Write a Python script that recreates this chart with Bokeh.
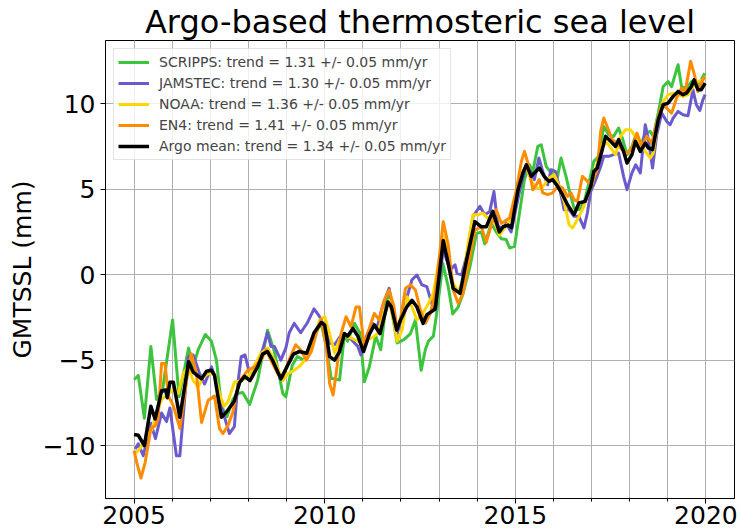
from bokeh.plotting import figure
from bokeh.models import (Range1d, SingleIntervalTicker, CustomJSTickFormatter,
                          Legend, LegendItem)
from bokeh.embed import file_html
from bokeh.resources import INLINE

TITLE = "Argo-based thermosteric sea level"
Y_LABEL = "GMTSSL (mm)"
NAMES = ["SCRIPPS: trend = 1.31 +/- 0.05 mm/yr",
         "JAMSTEC: trend = 1.30 +/- 0.05 mm/yr",
         "NOAA: trend = 1.36 +/- 0.05 mm/yr",
         "EN4: trend = 1.41 +/- 0.05 mm/yr",
         "Argo mean: trend = 1.34 +/- 0.05 mm/yr"]
COLORS = ["#3cc43c", "#6a5acd", "#ffd700", "#ff8c00", "#000000"]

scripps = [(2005.0, -6.15), (2005.11, -5.9), (2005.27, -8.4), (2005.44, -4.2), (2005.59, -7.3),
           (2005.74, -6.85), (2006.01, -2.65), (2006.18, -7.15), (2006.43, -4.3), (2006.55, -5.4),
           (2006.68, -4.4), (2006.87, -3.5), (2007.03, -3.9), (2007.16, -5.0), (2007.29, -7.7),
           (2007.44, -8.3), (2007.59, -7.3), (2007.72, -6.95), (2007.85, -6.9), (2008.03, -7.6),
           (2008.24, -6.2), (2008.5, -3.25), (2008.68, -4.5), (2008.9, -6.95), (2008.98, -7.15),
           (2009.15, -5.3), (2009.28, -4.8), (2009.46, -5.0), (2009.6, -4.6), (2009.74, -3.45),
           (2009.91, -2.85), (2010.04, -4.2), (2010.17, -6.07), (2010.39, -6.17), (2010.52, -3.45),
           (2010.6, -3.9), (2010.78, -2.85), (2010.93, -3.45), (2011.04, -6.27), (2011.17, -5.4),
           (2011.34, -3.6), (2011.47, -4.4), (2011.64, -1.1), (2011.77, -2.25), (2011.9, -4.0),
           (2012.08, -3.8), (2012.25, -3.45), (2012.38, -2.65), (2012.53, -5.6), (2012.64, -4.4),
           (2012.72, -3.9), (2012.85, -3.6), (2012.94, -2.25), (2013.1, 0.65), (2013.24, -0.7),
           (2013.36, -2.3), (2013.5, -1.9), (2013.63, -1.1), (2013.81, 0.47), (2013.98, 2.4),
           (2014.11, 2.5), (2014.2, 1.8), (2014.37, 3.0), (2014.5, 2.5), (2014.63, 2.1),
           (2014.76, 2.05), (2014.85, 1.56), (2014.98, 1.66), (2015.11, 3.6), (2015.24, 5.56),
           (2015.37, 6.43), (2015.46, 6.04), (2015.59, 7.5), (2015.68, 7.6), (2015.81, 6.33),
           (2015.94, 5.95), (2016.11, 5.75), (2016.2, 6.82), (2016.33, 5.75), (2016.41, 4.97),
           (2016.54, 3.9), (2016.67, 3.8), (2016.8, 4.19), (2016.93, 5.36), (2017.06, 6.63),
           (2017.19, 6.92), (2017.32, 8.67), (2017.45, 8.19), (2017.58, 8.09), (2017.71, 8.58),
           (2017.82, 7.9), (2017.93, 7.02), (2018.06, 7.5), (2018.15, 8.09), (2018.28, 7.5),
           (2018.41, 8.28), (2018.54, 8.38), (2018.62, 8.09), (2018.75, 9.45), (2018.88, 11.01),
           (2019.01, 11.3), (2019.1, 11.0), (2019.23, 11.99), (2019.27, 12.28), (2019.36, 11.0),
           (2019.49, 10.9), (2019.62, 11.3), (2019.75, 11.0), (2019.88, 11.4), (2019.97, 11.79)]

jamstec = [(2005.03, -10.2), (2005.11, -9.9), (2005.24, -10.6), (2005.44, -8.7), (2005.56, -9.6),
           (2005.72, -8.1), (2005.85, -8.6), (2005.94, -7.8), (2006.11, -10.6), (2006.2, -10.6),
           (2006.42, -4.8), (2006.55, -4.7), (2006.72, -5.8), (2006.85, -6.4), (2007.03, -5.4),
           (2007.11, -5.9), (2007.3, -7.8), (2007.5, -9.3), (2007.63, -8.9), (2007.72, -6.4),
           (2007.81, -4.8), (2007.91, -4.7), (2008.03, -5.8), (2008.24, -5.2), (2008.37, -4.4),
           (2008.5, -3.4), (2008.59, -4.2), (2008.68, -4.2), (2008.85, -5.0), (2008.98, -4.3),
           (2009.07, -3.4), (2009.2, -2.85), (2009.37, -3.4), (2009.55, -2.8), (2009.72, -2.0),
           (2009.85, -2.4), (2010.0, -3.05), (2010.13, -4.0), (2010.26, -4.1), (2010.43, -3.55),
           (2010.6, -3.55), (2010.74, -3.9), (2010.87, -4.2), (2010.95, -4.7), (2011.12, -3.45),
           (2011.25, -2.85), (2011.38, -3.05), (2011.51, -1.9), (2011.69, -0.8), (2011.82, -2.46),
           (2011.9, -3.45), (2012.03, -2.46), (2012.16, -1.3), (2012.29, -0.3), (2012.42, -0.02),
           (2012.55, -0.6), (2012.68, -0.7), (2012.81, -1.7), (2012.9, -2.07), (2013.11, 1.45),
           (2013.29, 0.27), (2013.42, 0.57), (2013.47, 0.08), (2013.59, -0.02), (2013.72, 1.05),
           (2013.89, 3.4), (2014.07, 4.0), (2014.2, 3.5), (2014.33, 3.7), (2014.44, 4.86),
           (2014.54, 2.9), (2014.67, 2.6), (2014.76, 3.0), (2014.89, 2.5), (2015.11, 4.87),
           (2015.24, 6.04), (2015.37, 6.14), (2015.5, 5.56), (2015.62, 6.82), (2015.72, 6.04),
           (2015.85, 5.26), (2015.94, 6.14), (2016.05, 6.04), (2016.15, 5.17), (2016.28, 3.8),
           (2016.41, 3.8), (2016.54, 3.41), (2016.67, 3.41), (2016.8, 2.73), (2016.89, 3.6),
           (2016.98, 4.87), (2017.11, 5.56), (2017.24, 6.33), (2017.32, 6.92), (2017.45, 6.92),
           (2017.58, 7.02), (2017.71, 7.11), (2017.84, 5.75), (2017.93, 4.97), (2018.06, 5.95),
           (2018.16, 6.43), (2018.28, 5.95), (2018.41, 8.77), (2018.49, 7.9), (2018.6, 6.24),
           (2018.71, 8.19), (2018.84, 9.45), (2018.97, 8.97), (2019.06, 8.77), (2019.14, 9.16),
           (2019.27, 9.55), (2019.4, 9.36), (2019.53, 9.3), (2019.66, 10.82), (2019.75, 9.94),
           (2019.84, 9.6), (2019.92, 10.23), (2019.98, 10.53)]

noaa = [(2005.0, -10.5), (2005.11, -10.3), (2005.24, -9.9), (2005.37, -9.3), (2005.46, -9.1),
        (2005.59, -8.1), (2005.72, -7.3), (2005.9, -6.95), (2006.03, -6.75), (2006.16, -6.95),
        (2006.29, -5.8), (2006.42, -5.4), (2006.55, -6.2), (2006.68, -6.56), (2006.81, -6.0),
        (2006.94, -5.8), (2007.11, -5.8), (2007.24, -6.95), (2007.36, -7.7), (2007.46, -7.45),
        (2007.63, -6.3), (2007.81, -6.2), (2007.98, -6.0), (2008.16, -5.3), (2008.33, -4.6),
        (2008.5, -4.3), (2008.68, -5.0), (2008.9, -6.2), (2009.03, -5.8), (2009.2, -5.6),
        (2009.37, -5.3), (2009.55, -4.8), (2009.74, -3.6), (2009.87, -2.65), (2010.0, -2.46),
        (2010.13, -3.45), (2010.26, -4.6), (2010.39, -3.8), (2010.52, -3.6), (2010.69, -3.7),
        (2010.87, -3.9), (2010.99, -4.0), (2011.12, -3.8), (2011.25, -3.7), (2011.38, -3.45),
        (2011.51, -2.55), (2011.69, -1.5), (2011.82, -2.85), (2011.9, -3.9), (2012.03, -3.25),
        (2012.16, -1.3), (2012.29, -1.9), (2012.42, -2.65), (2012.55, -2.35), (2012.72, -1.7),
        (2012.85, -1.1), (2013.11, 2.3), (2013.24, 0.95), (2013.37, -0.5), (2013.5, -1.0),
        (2013.63, -0.3), (2013.76, 1.8), (2013.89, 3.5), (2014.02, 3.5), (2014.15, 3.6),
        (2014.28, 3.3), (2014.41, 3.5), (2014.58, 2.3), (2014.71, 2.7), (2014.84, 3.1),
        (2014.97, 4.2), (2015.16, 5.95), (2015.29, 6.33), (2015.42, 5.46), (2015.55, 5.07),
        (2015.68, 5.07), (2015.76, 5.26), (2015.89, 5.65), (2016.02, 5.85), (2016.15, 5.17),
        (2016.28, 4.29), (2016.41, 2.92), (2016.5, 2.73), (2016.63, 3.22), (2016.76, 3.8),
        (2016.89, 4.58), (2017.02, 5.36), (2017.15, 6.53), (2017.28, 7.6), (2017.41, 7.7),
        (2017.54, 7.31), (2017.63, 7.02), (2017.76, 8.09), (2017.89, 8.48), (2018.02, 8.48),
        (2018.15, 8.09), (2018.28, 7.6), (2018.41, 7.21), (2018.54, 6.82), (2018.62, 7.11),
        (2018.75, 9.16), (2018.88, 10.14), (2019.01, 10.53), (2019.14, 10.62), (2019.27, 10.53),
        (2019.4, 10.43), (2019.53, 10.53), (2019.66, 11.01), (2019.79, 11.3), (2019.92, 11.4),
        (2019.98, 11.6)]

en4 = [(2005.0, -10.3), (2005.07, -11.0), (2005.18, -11.9), (2005.29, -11.0), (2005.44, -9.0),
       (2005.55, -8.85), (2005.63, -8.45), (2005.72, -5.2), (2005.81, -5.2), (2005.9, -7.1),
       (2006.03, -7.67), (2006.2, -9.0), (2006.37, -6.3), (2006.5, -4.63), (2006.63, -5.7),
       (2006.77, -8.65), (2006.94, -7.37), (2007.11, -7.1), (2007.24, -9.0), (2007.33, -9.3),
       (2007.46, -8.85), (2007.59, -8.06), (2007.72, -6.56), (2007.81, -6.1), (2007.98, -5.6),
       (2008.16, -5.4), (2008.33, -5.0), (2008.46, -4.4), (2008.59, -5.0), (2008.77, -5.8),
       (2008.9, -6.0), (2009.03, -5.2), (2009.16, -4.5), (2009.24, -4.1), (2009.37, -4.4),
       (2009.52, -5.0), (2009.65, -4.5), (2009.78, -3.45), (2009.91, -2.6), (2010.04, -4.2),
       (2010.13, -6.37), (2010.22, -7.05), (2010.3, -5.8), (2010.43, -3.45), (2010.56, -2.46),
       (2010.69, -3.05), (2010.82, -1.9), (2010.91, -1.9), (2011.04, -4.2), (2011.17, -3.15),
       (2011.3, -2.27), (2011.43, -2.65), (2011.56, -1.5), (2011.69, -0.9), (2011.82, -1.9),
       (2011.9, -3.25), (2011.99, -2.55), (2012.12, -0.8), (2012.25, -0.6), (2012.38, -0.9),
       (2012.51, -2.07), (2012.64, -2.85), (2012.77, -2.27), (2012.9, -1.1), (2013.11, 3.1),
       (2013.24, 1.74), (2013.37, -0.9), (2013.5, -1.68), (2013.63, -1.1), (2013.81, 1.05),
       (2013.94, 2.6), (2014.11, 2.8), (2014.24, 1.9), (2014.37, 2.9), (2014.5, 3.8),
       (2014.63, 3.0), (2014.72, 3.12), (2014.85, 3.31), (2015.03, 4.97), (2015.16, 6.63),
       (2015.24, 7.21), (2015.33, 6.53), (2015.46, 4.97), (2015.55, 5.26), (2015.63, 5.56),
       (2015.72, 4.78), (2015.85, 4.68), (2015.98, 4.78), (2016.11, 5.17), (2016.24, 5.07),
       (2016.37, 4.58), (2016.46, 4.78), (2016.54, 4.39), (2016.63, 4.29), (2016.76, 5.75),
       (2016.85, 5.56), (2016.93, 5.36), (2017.02, 5.46), (2017.15, 6.14), (2017.24, 8.38),
       (2017.32, 9.16), (2017.41, 8.67), (2017.54, 7.9), (2017.67, 7.7), (2017.8, 7.31),
       (2017.93, 7.11), (2018.06, 7.41), (2018.19, 8.28), (2018.32, 7.5), (2018.45, 8.09),
       (2018.58, 7.7), (2018.71, 8.87), (2018.84, 9.94), (2018.97, 9.75), (2019.1, 9.45),
       (2019.23, 10.33), (2019.36, 10.92), (2019.45, 10.62), (2019.6, 12.48), (2019.71, 11.6),
       (2019.79, 10.72), (2019.88, 11.21), (2019.97, 11.6)]

argo_mean = [(2005.0, -9.35), (2005.11, -9.4), (2005.27, -10.0), (2005.44, -7.7), (2005.55, -8.45),
             (2005.65, -7.5), (2005.72, -6.8), (2005.83, -6.75), (2005.87, -7.2), (2005.94, -6.3),
             (2006.03, -6.3), (2006.2, -8.35), (2006.43, -5.1), (2006.55, -5.7), (2006.77, -6.1),
             (2006.9, -5.65), (2007.03, -5.6), (2007.11, -5.9), (2007.29, -8.35), (2007.44, -8.0),
             (2007.63, -7.4), (2007.77, -6.3), (2007.9, -5.95), (2008.04, -6.2), (2008.24, -5.4),
             (2008.37, -4.65), (2008.5, -4.5), (2008.63, -5.0), (2008.85, -6.1), (2009.03, -5.3),
             (2009.18, -4.65), (2009.33, -4.5), (2009.53, -4.6), (2009.72, -3.4), (2009.91, -2.8),
             (2010.0, -2.95), (2010.13, -4.8), (2010.26, -5.0), (2010.39, -4.5), (2010.52, -3.45),
             (2010.6, -3.6), (2010.74, -3.15), (2010.87, -3.6), (2011.02, -4.5), (2011.17, -3.5),
             (2011.3, -2.95), (2011.45, -3.45), (2011.66, -1.6), (2011.75, -1.9), (2011.89, -3.25),
             (2011.99, -2.65), (2012.15, -1.9), (2012.29, -1.5), (2012.42, -1.9), (2012.58, -2.85),
             (2012.68, -2.35), (2012.81, -2.15), (2012.9, -2.0), (2013.11, 2.0), (2013.24, 0.65),
             (2013.37, -0.8), (2013.55, -1.1), (2013.72, 0.85), (2013.94, 3.1), (2014.11, 2.8),
             (2014.24, 2.8), (2014.41, 3.7), (2014.58, 2.5), (2014.68, 2.8), (2014.81, 2.9),
             (2014.9, 2.75), (2015.07, 4.97), (2015.2, 5.95), (2015.29, 6.43), (2015.42, 5.75),
             (2015.5, 5.95), (2015.63, 6.24), (2015.76, 5.75), (2015.88, 5.46), (2015.98, 5.56),
             (2016.11, 5.17), (2016.24, 4.68), (2016.37, 4.09), (2016.54, 3.51), (2016.67, 4.19),
             (2016.83, 4.29), (2016.98, 5.17), (2017.06, 6.04), (2017.15, 6.24), (2017.28, 7.31),
             (2017.37, 8.09), (2017.5, 7.8), (2017.63, 7.5), (2017.71, 7.9), (2017.84, 7.21),
             (2017.93, 6.53), (2018.06, 7.02), (2018.15, 7.8), (2018.28, 7.21), (2018.41, 7.7),
             (2018.49, 7.41), (2018.6, 7.31), (2018.75, 9.06), (2018.88, 9.94), (2019.01, 10.04),
             (2019.14, 10.43), (2019.27, 10.72), (2019.4, 10.53), (2019.49, 10.62), (2019.62, 11.01),
             (2019.69, 11.4), (2019.79, 10.82), (2019.88, 10.82), (2019.98, 11.2)]

SERIES = [scripps, jamstec, noaa, en4, argo_mean]
WIDTHS = [3, 3, 3, 3, 3.5]

FONT = "DejaVu Sans"

p = figure(width=741, height=530, output_backend="svg", toolbar_location=None,
           x_range=Range1d(2004.25, 2020.75), y_range=Range1d(-13.1, 13.7),
           min_border_left=105, min_border_right=7, min_border_top=40, min_border_bottom=32,
           background_fill_color="white", border_fill_color="white")

p.title.text = TITLE
p.title.text_font = FONT
p.title.text_font_size = "32px"
p.title.text_font_style = "normal"
p.title.text_color = "black"
p.title.align = "center"
p.title.standoff = 0

p.outline_line_color = "black"
p.outline_line_width = 1
p.outline_line_alpha = 1

p.xaxis.ticker = SingleIntervalTicker(interval=5, num_minor_ticks=5)
p.yaxis.ticker = SingleIntervalTicker(interval=5, num_minor_ticks=0)
p.yaxis.formatter = CustomJSTickFormatter(
    code="return tick < 0 ? '\u2212' + String(-tick) : String(tick);")

for ax in (p.xaxis[0], p.yaxis[0]):
    ax.axis_line_color = "black"
    ax.major_tick_line_color = "black"
    ax.minor_tick_line_color = "black"
    ax.major_tick_out = 5
    ax.major_tick_in = 0
    ax.minor_tick_out = 3
    ax.minor_tick_in = 0
    ax.major_label_text_font = FONT
    ax.major_label_text_font_size = "25px"
    ax.major_label_text_color = "black"
p.xaxis.major_label_standoff = 2
p.yaxis.major_label_standoff = 5
p.yaxis.minor_tick_line_color = None
p.yaxis.axis_label = Y_LABEL
p.yaxis.axis_label_text_font = FONT
p.yaxis.axis_label_text_font_size = "25px"
p.yaxis.axis_label_text_font_style = "normal"
p.yaxis.axis_label_text_color = "black"
p.yaxis.axis_label_standoff = 3

p.xgrid.grid_line_color = "#b0b0b0"
p.xgrid.minor_grid_line_color = "#b0b0b0"
p.ygrid.grid_line_color = "#b0b0b0"
p.xgrid.grid_line_width = 1
p.xgrid.minor_grid_line_width = 1
p.ygrid.grid_line_width = 1

items = []
for data, name, color, w in zip(SERIES, NAMES, COLORS, WIDTHS):
    xs = [d[0] for d in data]
    ys = [d[1] for d in data]
    r = p.line(xs, ys, line_color=color, line_width=w, line_join="round")
    items.append(LegendItem(label=name, renderers=[r]))

legend = Legend(items=items, location="top_left", margin=8, padding=4, spacing=3,
                label_height=18, glyph_height=18, glyph_width=31, label_standoff=10,
                label_text_font=FONT, label_text_font_size="14px",
                border_line_color="#cccccc", border_line_width=1,
                background_fill_color="white", background_fill_alpha=0.8)
p.add_layout(legend, "center")

open("out.html", "w").write(file_html(p, INLINE))
